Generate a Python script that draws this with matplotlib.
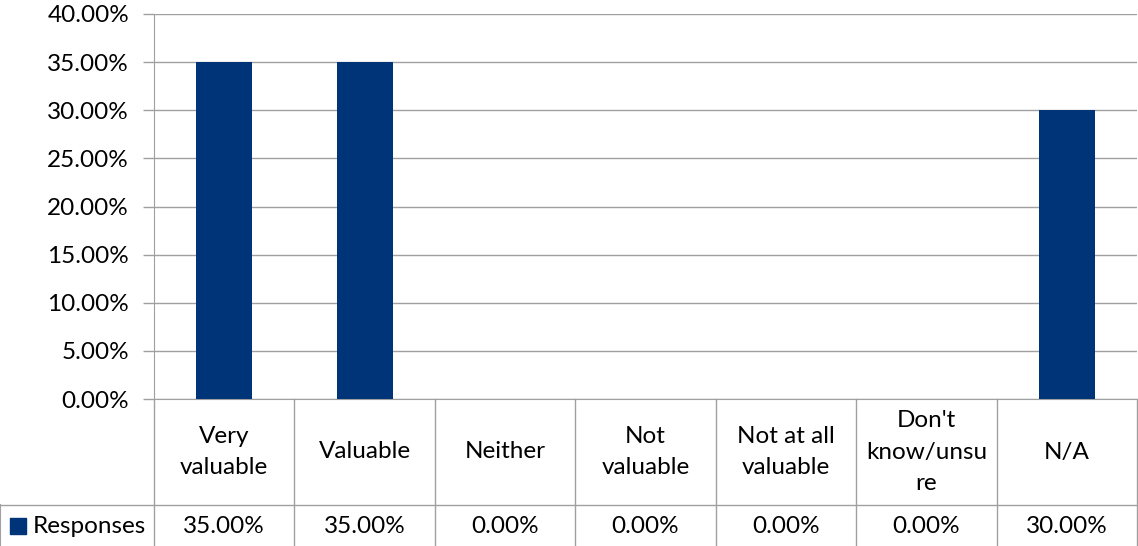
import numpy as np
import matplotlib.pyplot as plt
from matplotlib.ticker import PercentFormatter

# =========================================================
# DATA
categories = ['Very\nvaluable', 'Valuable', 'Neither', 'Not\nvaluable',
              'Not at all\nvaluable', "Don't\nknow/unsu\nre", 'N/A']
responses = [35.0, 35.0, 0.0, 0.0, 0.0, 0.0, 30.0]
series_name = 'Responses'
yticks = np.arange(0, 45, 5)

bar_color = '#003478'
line_color = '#a0a0a0'
fsize = 17.5
plt.rcParams['font.family'] = ['Lato', 'DejaVu Sans']

W, H = 1138, 546
fig = plt.figure(figsize=(W / 100, H / 100), dpi=100)

# plot area in pixel terms
left, right, top, bottom = 154, 1137, 14, 399
ax = fig.add_axes([left / W, 1 - bottom / H, (right - left) / W, (bottom - top) / H])

x = np.arange(len(categories))
ax.bar(x, responses, width=0.4, color=bar_color, zorder=3)
ax.set_xlim(-0.5, len(categories) - 0.5)
ax.set_ylim(0, 40)
ax.set_yticks(yticks)
ax.yaxis.set_major_formatter(PercentFormatter(decimals=2))
ax.tick_params(axis='y', labelsize=fsize, length=8, color=line_color, width=1, pad=10)
ax.tick_params(axis='x', bottom=False, labelbottom=False)
ax.grid(axis='y', color=line_color, linewidth=1, zorder=0)
for s in ['top', 'right']:
    ax.spines[s].set_visible(False)
ax.spines['left'].set_color(line_color)
ax.spines['bottom'].set_color(line_color)

# =========================================================
# DATA TABLE below the plot, sharing the column positions
tab_h = H - bottom
tab = fig.add_axes([left / W, 0, (right - left) / W, tab_h / H], sharex=ax)
tab.set_ylim(0, tab_h)
tab.axis('off')
row_split = tab_h - 106  # boundary between category row and value row
col_edges = np.arange(len(categories) + 1) - 0.5
for e in col_edges:
    tab.plot([e, e], [0, tab_h], color=line_color, lw=1, clip_on=False)
left_edge = -0.5 - left / ((right - left) / len(categories))
tab.plot([left_edge, col_edges[-1]], [row_split, row_split], color=line_color, lw=1, clip_on=False)
tab.plot([left_edge, left_edge], [0, row_split], color=line_color, lw=1.5, clip_on=False)

for xi, cat, val in zip(x, categories, responses):
    tab.text(xi, (tab_h + row_split) / 2, cat, ha='center', va='center',
             fontsize=fsize, linespacing=1.6)
    tab.text(xi, row_split / 2 - 1, f'{val:.2f}%', ha='center', va='center', fontsize=fsize)

tab.scatter([left_edge + 0.13], [row_split / 2], marker='s', s=120,
            color=bar_color, clip_on=False)
tab.text(left_edge + 0.23, row_split / 2 - 1, series_name, ha='left', va='center', fontsize=fsize)

fig.savefig('out.png', dpi=100)
